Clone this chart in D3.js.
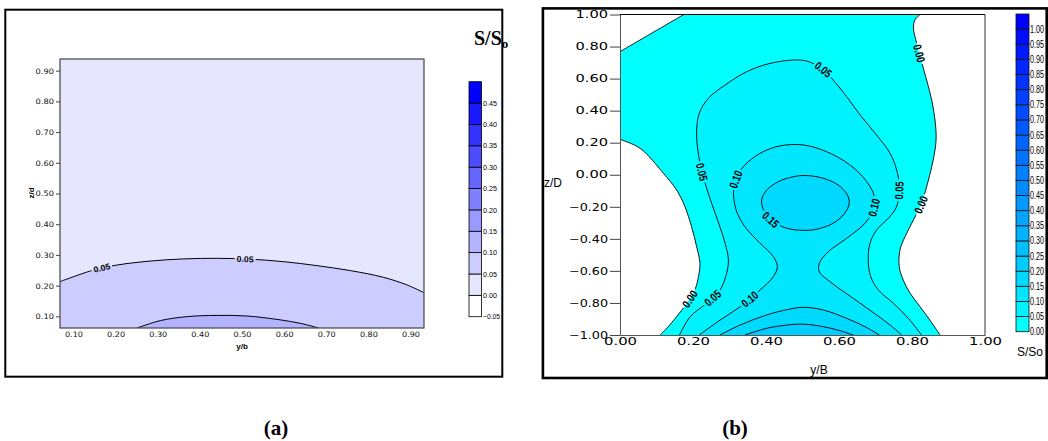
<!DOCTYPE html>
<html><head><meta charset="utf-8">
<script src="https://cdn.jsdelivr.net/npm/d3@7"></script>
<style>body{margin:0;background:#fff}svg{display:block}</style>
</head><body>
<svg id="c" width="1048" height="441"></svg>
<script>
// ---------------- DATA: panel (a) ----------------
const aXDomain = [0.068, 0.932];
const aYDomain = [0.062, 0.938];
const aXTicks = [0.10, 0.20, 0.30, 0.40, 0.50, 0.60, 0.70, 0.80, 0.90];
const aYTicks = [0.10, 0.20, 0.30, 0.40, 0.50, 0.60, 0.70, 0.80, 0.90];
const aLevels = [-0.05, 0.00, 0.05, 0.10, 0.15, 0.20, 0.25, 0.30, 0.35, 0.40, 0.45, 0.50];
const aC005 = [[0.068,0.213],[0.148,0.251],[0.203,0.267],[0.282,0.280],[0.361,0.287],[0.441,0.289],
  [0.520,0.286],[0.599,0.278],[0.678,0.265],[0.757,0.249],[0.836,0.227],[0.892,0.202],[0.932,0.177]];
const aC010 = [[0.251,0.062],[0.306,0.086],[0.369,0.099],[0.441,0.103],[0.512,0.101],[0.583,0.090],
  [0.639,0.077],[0.682,0.062]];
const aLabels = [{t:"0.05", c:"c005", at:[0.167,0.256]}, {t:"0.05", c:"c005", at:[0.508,0.286]}];

// ---------------- DATA: panel (b) ----------------
const bXTicks = [0.00, 0.20, 0.40, 0.60, 0.80, 1.00];
const bYTicks = [-1.00, -0.80, -0.60, -0.40, -0.20, 0.00, 0.20, 0.40, 0.60, 0.80, 1.00];
const bLevels = [0.00,0.05,0.10,0.15,0.20,0.25,0.30,0.35,0.40,0.45,0.50,0.55,0.60,0.65,0.70,0.75,0.80,0.85,0.90,0.95,1.00,1.05];
const bZeroTopLeft = [[0,0.768],[0.088,0.885],[0.175,1.0]];
const bZeroLeft = [[0,0.221],[0.055,0.165],[0.119,0.009],[0.155,-0.095],[0.178,-0.199],[0.196,-0.324],
  [0.210,-0.449],[0.219,-0.553],[0.215,-0.636],[0.205,-0.719],[0.183,-0.802],[0.155,-0.886],[0.128,-0.958],[0.110,-1.0]];
const bZeroRight = [[0.822,1.0],[0.808,0.966],[0.804,0.914],[0.813,0.820],[0.826,0.706],[0.840,0.591],
  [0.854,0.466],[0.863,0.342],[0.866,0.217],[0.858,0.092],[0.845,-0.033],[0.826,-0.178],[0.804,-0.282],
  [0.781,-0.386],[0.767,-0.469],[0.765,-0.574],[0.776,-0.657],[0.795,-0.740],[0.822,-0.823],[0.849,-0.907],[0.877,-1.0]];
const bC005 = [[0.163,-1.0],[0.192,-0.886],[0.237,-0.802],[0.274,-0.719],[0.292,-0.615],[0.297,-0.532],
  [0.288,-0.428],[0.272,-0.314],[0.251,-0.178],[0.233,-0.053],[0.221,0.050],[0.212,0.175],[0.210,0.279],
  [0.217,0.383],[0.242,0.477],[0.288,0.560],[0.347,0.643],[0.411,0.695],[0.475,0.716],[0.511,0.710],
  [0.553,0.664],[0.584,0.591],[0.621,0.487],[0.658,0.373],[0.703,0.248],[0.740,0.134],[0.758,0.030],
  [0.765,-0.074],[0.758,-0.199],[0.735,-0.272],[0.703,-0.345],[0.685,-0.428],[0.680,-0.532],[0.687,-0.636],
  [0.708,-0.719],[0.749,-0.802],[0.790,-0.896],[0.826,-1.0]];
const bC010 = [[0.217,-1.0],[0.274,-0.907],[0.329,-0.824],[0.384,-0.719],[0.420,-0.636],[0.431,-0.574],
  [0.420,-0.511],[0.384,-0.428],[0.342,-0.324],[0.318,-0.219],[0.311,-0.095],[0.320,-0.012],[0.342,0.061],
  [0.384,0.134],[0.438,0.180],[0.502,0.186],[0.566,0.144],[0.630,0.061],[0.676,-0.043],[0.697,-0.137],
  [0.694,-0.220],[0.671,-0.303],[0.621,-0.397],[0.571,-0.480],[0.546,-0.553],[0.546,-0.605],[0.575,-0.667],
  [0.639,-0.771],[0.703,-0.875],[0.740,-0.938],[0.772,-1.0]];
const bC015Loop = [[0.388,-0.157],[0.402,-0.095],[0.434,-0.043],[0.475,-0.012],[0.511,-0.005],[0.557,-0.022],
  [0.598,-0.064],[0.623,-0.126],[0.628,-0.178],[0.616,-0.240],[0.584,-0.303],[0.539,-0.340],[0.502,-0.347],
  [0.457,-0.334],[0.420,-0.293],[0.395,-0.230]];
const bC015Bottom = [[0.274,-1.0],[0.329,-0.938],[0.402,-0.875],[0.461,-0.840],[0.502,-0.827],[0.557,-0.844],
  [0.621,-0.896],[0.671,-0.948],[0.711,-1.0]];
const bC020Bottom = [[0.342,-1.0],[0.402,-0.958],[0.457,-0.938],[0.502,-0.932],[0.557,-0.948],[0.603,-0.973],[0.639,-1.0]];
const bLabels = [
  {t:"0.00", c:"zeroRight", at:[0.822,0.758]},
  {t:"0.05", c:"c005", at:[0.555,0.650]},
  {t:"0.05", c:"c005", at:[0.226,0.019]},
  {t:"0.10", c:"c010", at:[0.321,-0.032]},
  {t:"0.15", c:"c015loop", at:[0.416,-0.272]},
  {t:"0.10", c:"c010", at:[0.692,-0.203]},
  {t:"0.05", c:"c005", at:[0.765,-0.099]},
  {t:"0.00", c:"zeroRight", at:[0.822,-0.183]},
  {t:"0.00", c:"zeroLeft", at:[0.187,-0.767]},
  {t:"0.05", c:"c005", at:[0.256,-0.776]},
  {t:"0.10", c:"c010", at:[0.352,-0.767]}
];

// ---------------- DRAWING ----------------
const svg = d3.select("#c");
const defs = svg.append("defs");
const fmt = d3.format(".2f");
const aColor = i => d3.interpolateRgb("#ffffff", "#0000ff")(i / 10);
const bColor = i => d3.interpolateRgb("#00ffff", "#0000ff")(i / 20);

function placeLabels(g, maskG, nodes, labels, xs, ys, fs, tl) {
  labels.forEach(l => {
    const node = nodes[l.c];
    const tx = xs(l.at[0]), ty = ys(l.at[1]);
    const L = node.getTotalLength();
    let best = 0, bd = Infinity;
    for (let s = 0; s <= L; s += 0.5) {
      const p = node.getPointAtLength(s);
      const d = (p.x - tx) ** 2 + (p.y - ty) ** 2;
      if (d < bd) { bd = d; best = s; }
    }
    const p = node.getPointAtLength(best);
    const p1 = node.getPointAtLength(Math.max(0, best - 4));
    const p2 = node.getPointAtLength(Math.min(L, best + 4));
    let ang = Math.atan2(p2.y - p1.y, p2.x - p1.x) * 180 / Math.PI;
    if (ang > 90) ang -= 180;
    if (ang < -90) ang += 180;
    g.append("text")
      .attr("transform", `translate(${p.x},${p.y}) rotate(${ang})`)
      .attr("text-anchor", "middle").attr("dy", "0.36em")
      .attr("font-family", "Liberation Sans, Arial, sans-serif")
      .attr("font-weight", "bold").attr("font-size", fs)
      .attr("textLength", tl).attr("lengthAdjust", "spacingAndGlyphs")
      .attr("fill", "#000").text(l.t);
    maskG.append("rect")
      .attr("transform", `translate(${p.x},${p.y}) rotate(${ang})`)
      .attr("x", -tl / 2 - 2).attr("y", -fs * 0.55).attr("width", tl + 4).attr("height", fs * 1.1)
      .attr("fill", "#000");
  });
}

// ===== Panel (a) =====
{
  const ax = d3.scaleLinear().domain(aXDomain).range([60, 424]);
  const ay = d3.scaleLinear().domain(aYDomain).range([328, 59]);
  const line = d3.line().x(d => ax(d[0])).y(d => ay(d[1])).curve(d3.curveCatmullRom.alpha(0.5));

  svg.append("rect").attr("x", 5.3).attr("y", 9.7).attr("width", 497).attr("height", 367)
    .attr("fill", "none").attr("stroke", "#000").attr("stroke-width", 2);

  defs.append("clipPath").attr("id", "clipA").append("rect")
    .attr("x", 60).attr("y", 59).attr("width", 364).attr("height", 269);
  const g = svg.append("g").attr("clip-path", "url(#clipA)");
  g.append("rect").attr("x", 60).attr("y", 59).attr("width", 364).attr("height", 269).attr("fill", aColor(1));
  const x0 = ax(aXDomain[0]) - 5, x1 = ax(aXDomain[1]) + 5, yb = ay(aYDomain[0]) + 5;
  g.append("path").attr("d", line(aC005) + `L${x1},${ay(aC005[aC005.length-1][1])}L${x1},${yb}L${x0},${yb}L${x0},${ay(aC005[0][1])}Z`)
    .attr("fill", aColor(2));
  g.append("path").attr("d", line(aC010) + "Z").attr("fill", aColor(3));

  const mask = defs.append("mask").attr("id", "maskA").attr("maskUnits", "userSpaceOnUse")
    .attr("x", 0).attr("y", 0).attr("width", 1048).attr("height", 441);
  mask.append("rect").attr("width", 1048).attr("height", 441).attr("fill", "#fff");
  const lg = g.append("g").attr("mask", "url(#maskA)");
  const nodes = {};
  nodes.c005 = lg.append("path").attr("d", line(aC005)).attr("fill", "none").attr("stroke", "#000").attr("stroke-width", 1).node();
  nodes.c010 = lg.append("path").attr("d", line(aC010)).attr("fill", "none").attr("stroke", "#000").attr("stroke-width", 1).node();
  placeLabels(g, mask, nodes, aLabels, ax, ay, 8.5, 17);

  svg.append("rect").attr("x", 60).attr("y", 59).attr("width", 364).attr("height", 269)
    .attr("fill", "none").attr("stroke", "#444").attr("stroke-width", 1.2);

  // axes
  const yAx = svg.append("g").attr("transform", "translate(60,0)")
    .call(d3.axisLeft(ay).tickValues(aYTicks).tickFormat(fmt).tickSize(4).tickPadding(2));
  yAx.select(".domain").remove();
  yAx.selectAll("line").attr("stroke", "#444");
  yAx.selectAll("text").attr("font-family", "DejaVu Sans, sans-serif").attr("font-size", 7.5)
    .attr("textLength", 18.5).attr("lengthAdjust", "spacingAndGlyphs").attr("fill", "#111");
  const xAx = svg.append("g").attr("transform", "translate(0,328)")
    .call(d3.axisBottom(ax).tickValues(aXTicks).tickFormat(fmt).tickSize(0).tickPadding(4));
  xAx.select(".domain").remove();
  xAx.selectAll("text").attr("font-family", "DejaVu Sans, sans-serif").attr("font-size", 7.5)
    .attr("textLength", 18).attr("lengthAdjust", "spacingAndGlyphs").attr("fill", "#111");

  svg.append("text").attr("x", 242).attr("y", 348.5).attr("text-anchor", "middle")
    .attr("font-family", "Liberation Sans, Arial, sans-serif").attr("font-weight", "bold").attr("font-size", 8).text("y/b");
  svg.append("text").attr("transform", "translate(34,193) rotate(-90)").attr("text-anchor", "middle")
    .attr("font-family", "Liberation Sans, Arial, sans-serif").attr("font-weight", "bold").attr("font-size", 8).text("z/d");

  // colorbar
  const cy = d3.scaleLinear().domain([aLevels[0], aLevels[aLevels.length - 1]]).range([316.7, 81.7]);
  const cb = svg.append("g");
  cb.selectAll("rect.band").data(aLevels.slice(0, -1)).join("rect").attr("class", "band")
    .attr("x", 469).attr("width", 12.5)
    .attr("y", (d, i) => cy(aLevels[i + 1])).attr("height", (d, i) => cy(aLevels[i]) - cy(aLevels[i + 1]))
    .attr("fill", (d, i) => aColor(i)).attr("stroke", "#000").attr("stroke-width", 0.8);
  cb.selectAll("text").data(aLevels.slice(0, -1)).join("text")
    .attr("x", 483).attr("y", d => cy(d)).attr("dy", "0.35em")
    .attr("font-family", "Liberation Sans, Arial, sans-serif").attr("font-size", 7.5)
    .attr("textLength", d => d < 0 ? 17 : 14).attr("lengthAdjust", "spacingAndGlyphs")
    .text(d => fmt(d));

  const title = svg.append("text").attr("x", 474).attr("y", 45)
    .attr("font-family", "Liberation Serif, Times New Roman, serif").attr("font-weight", "bold").attr("font-size", 20);
  title.append("tspan").text("S/S");
  title.append("tspan").attr("font-size", 13).attr("dy", 3).text("o");
}

// ===== Panel (b) =====
{
  const bx = d3.scaleLinear().domain([0, 1]).range([620, 985]);
  const by = d3.scaleLinear().domain([-1, 1]).range([335, 14.5]);
  const line = d3.line().x(d => bx(d[0])).y(d => by(d[1])).curve(d3.curveCatmullRom.alpha(0.5));
  const loop = d3.line().x(d => bx(d[0])).y(d => by(d[1])).curve(d3.curveCatmullRomClosed.alpha(0.5));
  const seg = (pts, first) => { const s = line(pts); return first ? s : s.replace(/^M/, "L"); };

  svg.append("rect").attr("x", 542.9).attr("y", 8.4).attr("width", 503.8).attr("height", 369.6)
    .attr("fill", "none").attr("stroke", "#000").attr("stroke-width", 2.6);

  defs.append("clipPath").attr("id", "clipB").append("rect")
    .attr("x", 620).attr("y", 14.5).attr("width", 365).attr("height", 320.5);
  const g = svg.append("g").attr("clip-path", "url(#clipB)");
  const cyanD = seg(bZeroTopLeft, true) + seg(bZeroRight) + seg(bZeroLeft.slice().reverse()) + "Z";
  g.append("path").attr("d", cyanD).attr("fill", bColor(0));
  g.append("path").attr("d", line(bC005) + "Z").attr("fill", bColor(1));
  g.append("path").attr("d", line(bC010) + "Z").attr("fill", bColor(2));
  g.append("path").attr("d", loop(bC015Loop)).attr("fill", bColor(3));
  g.append("path").attr("d", line(bC015Bottom) + "Z").attr("fill", bColor(3));
  g.append("path").attr("d", line(bC020Bottom) + "Z").attr("fill", bColor(4));

  const mask = defs.append("mask").attr("id", "maskB").attr("maskUnits", "userSpaceOnUse")
    .attr("x", 0).attr("y", 0).attr("width", 1048).attr("height", 441);
  mask.append("rect").attr("width", 1048).attr("height", 441).attr("fill", "#fff");
  const lg = g.append("g").attr("mask", "url(#maskB)").attr("fill", "none").attr("stroke", "#000").attr("stroke-width", 0.9);
  const nodes = {};
  nodes.zeroTopLeft = lg.append("path").attr("d", line(bZeroTopLeft)).node();
  nodes.zeroLeft = lg.append("path").attr("d", line(bZeroLeft)).node();
  nodes.zeroRight = lg.append("path").attr("d", line(bZeroRight)).node();
  nodes.c005 = lg.append("path").attr("d", line(bC005)).node();
  nodes.c010 = lg.append("path").attr("d", line(bC010)).node();
  nodes.c015loop = lg.append("path").attr("d", loop(bC015Loop)).node();
  nodes.c015b = lg.append("path").attr("d", line(bC015Bottom)).node();
  nodes.c020b = lg.append("path").attr("d", line(bC020Bottom)).node();
  placeLabels(g, mask, nodes, bLabels, bx, by, 11.5, 18);

  // frame
  svg.append("line").attr("x1", 620).attr("x2", 985).attr("y1", 14.5).attr("y2", 14.5).attr("stroke", "#000").attr("stroke-width", 1);
  svg.append("line").attr("x1", 985).attr("x2", 985).attr("y1", 14.5).attr("y2", 335).attr("stroke", "#333").attr("stroke-width", 1);

  const yAx = svg.append("g").attr("transform", "translate(620,0)")
    .call(d3.axisLeft(by).tickValues(bYTicks).tickFormat(fmt).tickSize(10).tickSizeOuter(0).tickPadding(2));
  yAx.select(".domain").attr("stroke", "#555");
  yAx.selectAll("line").attr("stroke", "#444");
  yAx.selectAll("text").attr("font-family", "DejaVu Sans, sans-serif").attr("font-size", 10)
    .attr("textLength", d => d < 0 ? 39 : 32.5).attr("lengthAdjust", "spacingAndGlyphs").attr("fill", "#000");
  const xAx = svg.append("g").attr("transform", "translate(0,335)")
    .call(d3.axisBottom(bx).tickValues(bXTicks).tickFormat(fmt).tickSize(0).tickSizeOuter(0).tickPadding(3));
  xAx.select(".domain").attr("stroke", "#555");
  xAx.selectAll("text").attr("font-family", "DejaVu Sans, sans-serif").attr("font-size", 10)
    .attr("textLength", 33).attr("lengthAdjust", "spacingAndGlyphs").attr("fill", "#000");

  svg.append("text").attr("x", 544).attr("y", 187).attr("font-family", "Liberation Sans, Arial, sans-serif")
    .attr("font-size", 12).text("z/D");
  svg.append("text").attr("x", 819).attr("y", 374).attr("text-anchor", "middle")
    .attr("font-family", "Liberation Sans, Arial, sans-serif").attr("font-size", 12).text("y/B");
  svg.append("text").attr("x", 1030).attr("y", 356).attr("text-anchor", "middle")
    .attr("font-family", "Liberation Sans, Arial, sans-serif").attr("font-size", 12).text("S/So");

  // colorbar
  const cy = d3.scaleLinear().domain([bLevels[0], bLevels[bLevels.length - 1]]).range([331.7, 14]);
  const cb = svg.append("g");
  cb.selectAll("rect.band").data(bLevels.slice(0, -1)).join("rect").attr("class", "band")
    .attr("x", 1016).attr("width", 13)
    .attr("y", (d, i) => cy(bLevels[i + 1])).attr("height", (d, i) => cy(bLevels[i]) - cy(bLevels[i + 1]))
    .attr("fill", (d, i) => bColor(i)).attr("stroke", "#111").attr("stroke-width", 0.8);
  cb.selectAll("text").data(bLevels.slice(0, -1)).join("text")
    .attr("x", 1030).attr("y", d => cy(d)).attr("dy", "0.35em")
    .attr("font-family", "Liberation Sans Narrow, Liberation Sans, Arial, sans-serif").attr("font-size", 10)
    .attr("textLength", 14).attr("lengthAdjust", "spacingAndGlyphs")
    .text(d => fmt(d));
}

// captions
svg.append("text").attr("x", 276).attr("y", 435).attr("text-anchor", "middle")
  .attr("font-family", "Liberation Serif, Times New Roman, serif").attr("font-weight", "bold").attr("font-size", 21).text("(a)");
svg.append("text").attr("x", 735).attr("y", 435).attr("text-anchor", "middle")
  .attr("font-family", "Liberation Serif, Times New Roman, serif").attr("font-weight", "bold").attr("font-size", 21).text("(b)");
</script>
</body></html>
